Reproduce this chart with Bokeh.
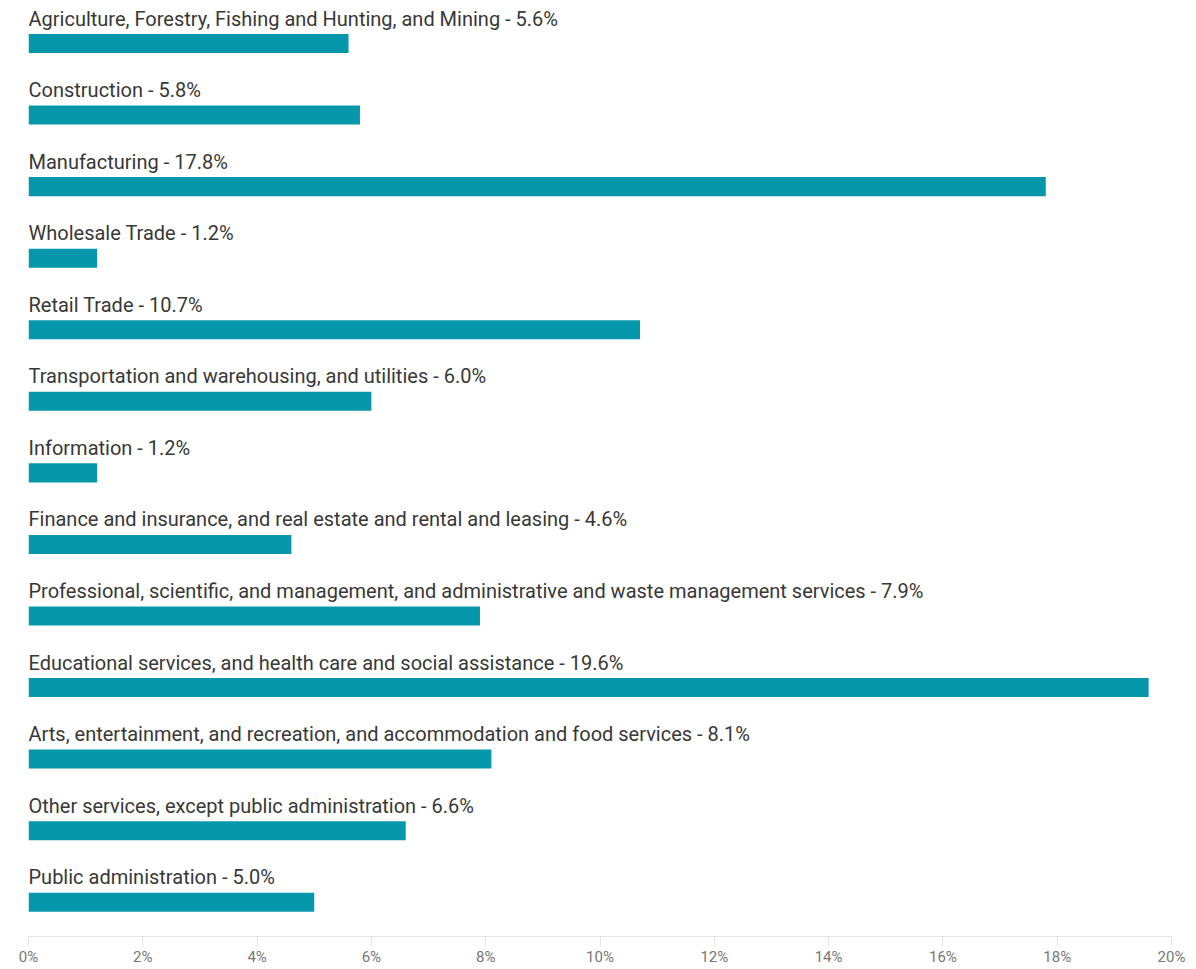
from bokeh.plotting import figure
from bokeh.models import Range1d, ColumnDataSource, PrintfTickFormatter, FixedTicker
from bokeh.core.properties import value
from bokeh.embed import file_html
from bokeh.resources import INLINE

categories = [
    "Agriculture, Forestry, Fishing and Hunting, and Mining",
    "Construction",
    "Manufacturing",
    "Wholesale Trade",
    "Retail Trade",
    "Transportation and warehousing, and utilities",
    "Information",
    "Finance and insurance, and real estate and rental and leasing",
    "Professional, scientific, and management, and administrative and waste management services",
    "Educational services, and health care and social assistance",
    "Arts, entertainment, and recreation, and accommodation and food services",
    "Other services, except public administration",
    "Public administration",
]
values = [5.6, 5.8, 17.8, 1.2, 10.7, 6.0, 1.2, 4.6, 7.9, 19.6, 8.1, 6.6, 5.0]
x_ticks = [0, 2, 4, 6, 8, 10, 12, 14, 16, 18, 20]

pos = list(range(len(categories)))
labels = [f"{c} - {v:.1f}%" for c, v in zip(categories, values)]
src = ColumnDataSource(dict(y=pos, v=values, label=labels, zero=[0] * len(values)))

p = figure(
    width=1196, height=968,
    x_range=Range1d(0, 20),
    y_range=Range1d(12.479, -0.601),
    output_backend="svg", toolbar_location=None,
    min_border_left=28, min_border_right=25, min_border_top=0, min_border_bottom=0,
)
p.hbar(y="y", left="zero", right="v", height=0.266, source=src,
       fill_color="#0698AA", line_color=None)
p.text(x="zero", y="y", text="label", source=src, y_offset=-25,
       text_baseline="alphabetic", text_align="left",
       text_font=value("Roboto"), text_font_size="20px", text_color="#383838")

p.outline_line_color = None
p.xgrid.visible = False
p.ygrid.visible = False
p.yaxis.visible = False
ax = p.xaxis[0]
ax.ticker = FixedTicker(ticks=x_ticks)
ax.formatter = PrintfTickFormatter(format="%d%%")
ax.axis_line_color = "#e3e3e3"
ax.major_tick_line_color = "#e3e3e3"
ax.major_tick_out = 10
ax.major_tick_in = 0
ax.minor_tick_line_color = None
ax.major_label_standoff = 1
ax.major_label_text_font = "Roboto"
ax.major_label_text_font_size = "15px"
ax.major_label_text_color = "#777777"

open("out.html", "w").write(file_html(p, INLINE))
